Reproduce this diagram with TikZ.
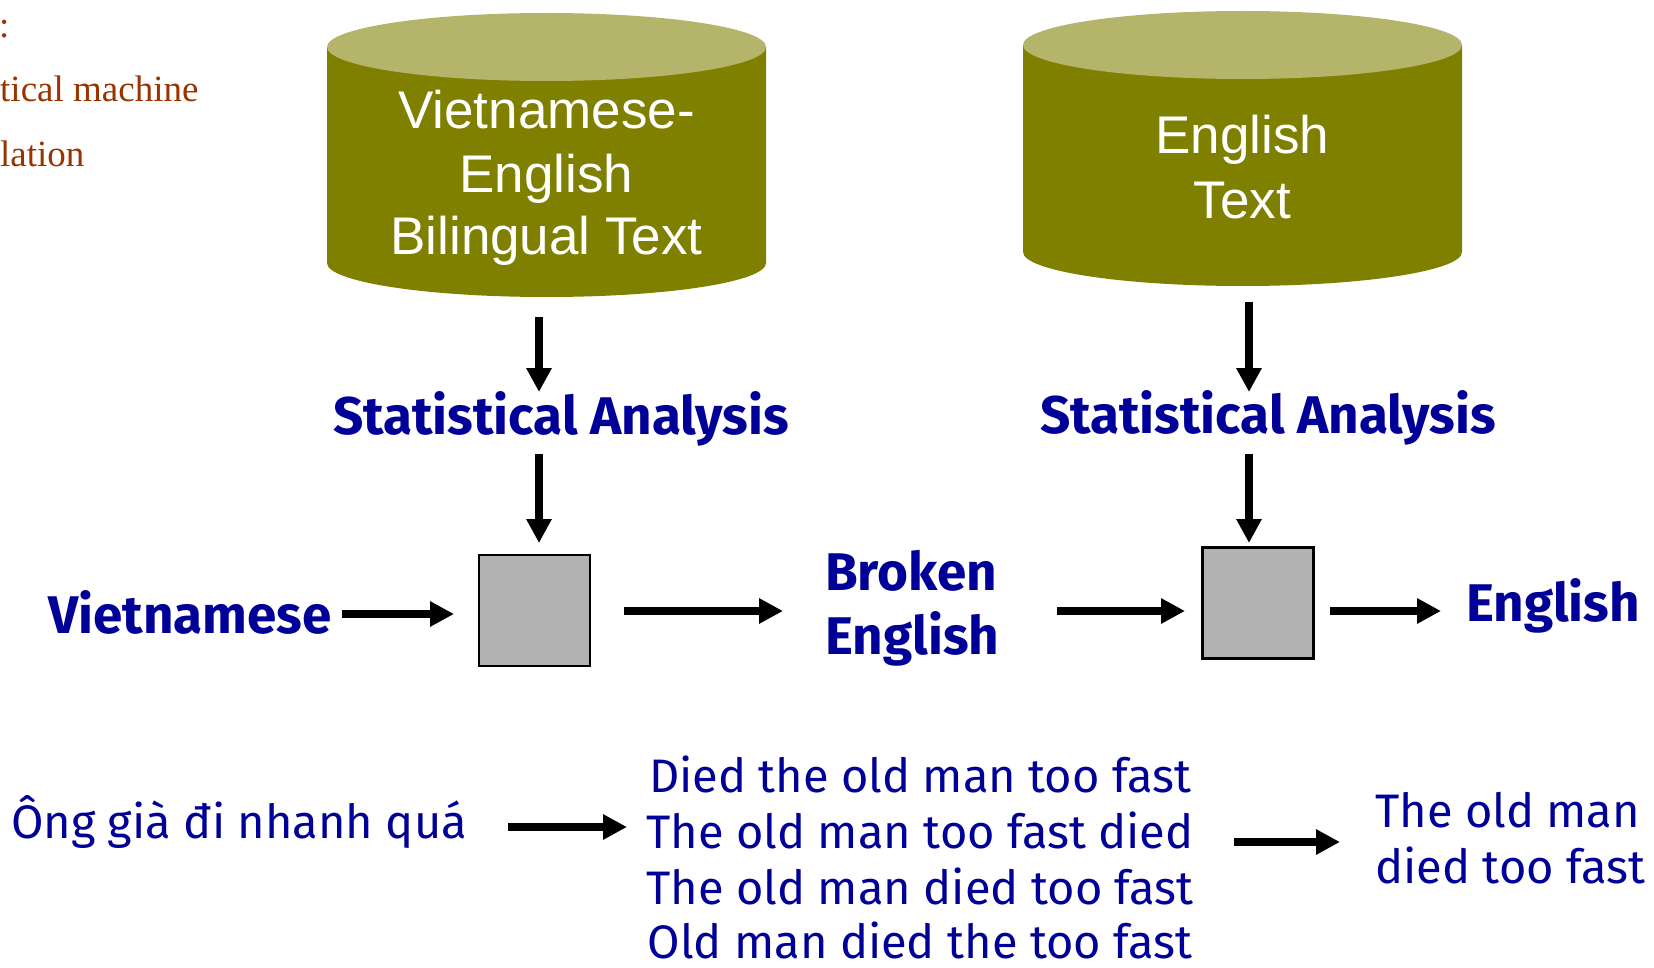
\documentclass[tikz,border=0pt]{standalone}
\usepackage{fontspec}
\usetikzlibrary{arrows.meta}
\newfontfamily\cylfont{Liberation Sans}
\newfontfamily\labfont{Fira Sans}
\newfontfamily\notefont{Liberation Serif}
\definecolor{cylbody}{RGB}{128,128,0}
\definecolor{cyltop}{RGB}{180,180,106}
\definecolor{labblue}{RGB}{0,0,153}
\definecolor{notebrown}{RGB}{153,51,0}
\definecolor{boxgray}{RGB}{178,178,178}
\begin{document}
\begin{tikzpicture}[x=1pt,y=-1pt,
  flow/.style={line width=8pt,-{Triangle[length=24pt,width=24pt]}},
  cyltext/.style={font=\cylfont\fontsize{53}{60}\selectfont, text=white, anchor=base, inner sep=0},
  headlab/.style={font=\labfont\bfseries\fontsize{53}{60}\selectfont, text=labblue, anchor=base, inner sep=0},
  sentence/.style={font=\labfont\fontsize{47}{56}\selectfont, text=labblue, anchor=base, inner sep=0},
  note/.style={font=\notefont\fontsize{37}{44}\selectfont, text=notebrown, anchor=base west, inner sep=0},
  procbox/.style={draw, fill=boxgray, minimum size=111pt, inner sep=0, line width=2pt},
]
\useasboundingbox (0,0) rectangle (1654,968);

% side notes (cut by the left edge)
\node[note] (n1) at (-1,38) {:};
\node[note] (n2) at (0,102) {tical machine};
\node[note] (n3) at (0,167) {lation};

% bilingual corpus
\fill[cylbody] (327,47) -- (327,263) arc[start angle=180,end angle=360,x radius=219.5pt,y radius=34pt] -- (766,47) -- cycle;
\fill[cyltop] (546.5,47) ellipse[x radius=219.5pt,y radius=34pt];
\node[cyltext] (db1a) at (546.5,129) {Vietnamese-};
\node[cyltext] (db1b) at (546.5,193) {English};
\node[cyltext] (db1c) at (546.5,255) {Bilingual Text};

% monolingual corpus
\fill[cylbody] (1023,45) -- (1023,252) arc[start angle=180,end angle=360,x radius=219.5pt,y radius=34pt] -- (1462,45) -- cycle;
\fill[cyltop] (1242.5,45) ellipse[x radius=219.5pt,y radius=34pt];
\node[cyltext] (db2a) at (1242.5,154) {English};
\node[cyltext] (db2b) at (1242.5,219) {Text};

% labels
\node[headlab] (sa1) at (561,434) {Statistical Analysis};
\node[headlab] (sa2) at (1268,433) {Statistical Analysis};
\node[headlab] (src) at (190,633) {Vietnamese};
\node[headlab, anchor=base west] (brk1) at (825,590) {Broken};
\node[headlab, anchor=base west] (brk2) at (825,654) {English};
\node[headlab] (tgt) at (1553,621) {English};

% models
\node[procbox] (box1) at (534.5,610.5) {};
\node[procbox, line width=3pt] (box2) at (1258,602.5) {};

% connector ends
\coordinate (db1out) at (539,317);
\coordinate (sa1in)  at (539,392);
\coordinate (sa1out) at (539,454);
\coordinate (box1in) at (539,543);
\coordinate (db2out) at (1249,302);
\coordinate (sa2in)  at (1249,392);
\coordinate (sa2out) at (1249,454);
\coordinate (box2in) at (1249,543);
\coordinate (srcout) at (342,614);
\coordinate (box1l)  at (454,614);
\coordinate (box1r)  at (624,611);
\coordinate (brkin)  at (783,611);
\coordinate (brkout) at (1057,611);
\coordinate (box2l)  at (1185,611);
\coordinate (box2r)  at (1330,611);
\coordinate (tgtin)  at (1441,611);

\draw[flow] (db1out) -- (sa1in);
\draw[flow] (sa1out) -- (box1in);
\draw[flow] (db2out) -- (sa2in);
\draw[flow] (sa2out) -- (box2in);
\draw[flow] (srcout) -- (box1l);
\draw[flow] (box1r) -- (brkin);
\draw[flow] (brkout) -- (box2l);
\draw[flow] (box2r) -- (tgtin);

% worked example
\node[sentence] (ex) at (239,838) {Ông già đi nhanh quá};
\node[sentence] (c1) at (920,792) {Died the old man too fast};
\node[sentence] (c2) at (920,848) {The old man too fast died};
\node[sentence] (c3) at (920,904) {The old man died too fast};
\node[sentence] (c4) at (920,958) {Old man died the too fast};
\node[sentence, anchor=base west] (r1) at (1375,827) {The old man};
\node[sentence, anchor=base west] (r2) at (1375,883) {died too fast};

\coordinate (exout) at (508,827);
\coordinate (candin) at (627,827);
\coordinate (candout) at (1234,842);
\coordinate (resin) at (1340,842);
\draw[flow] (exout) -- (candin);
\draw[flow] (candout) -- (resin);
\end{tikzpicture}
\end{document}
